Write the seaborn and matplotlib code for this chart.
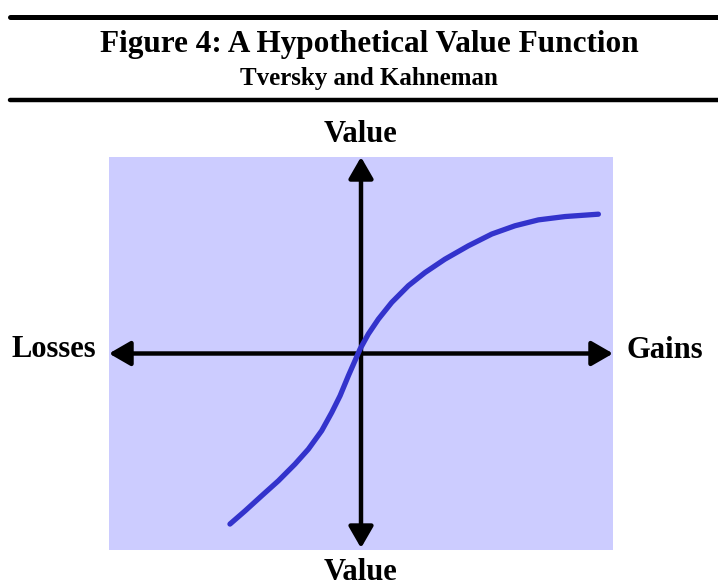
import pandas as pd
import matplotlib
matplotlib.use("Agg")
import matplotlib.pyplot as plt
from matplotlib.lines import Line2D
import seaborn as sns

# Value function curve (arbitrary units)
gain_loss = [-0.520, -0.460, -0.394, -0.328, -0.262, -0.209, -0.156, -0.116,
             -0.083, -0.050, -0.024, -0.004, 0.029, 0.069, 0.122, 0.188,
             0.254, 0.333, 0.426, 0.519, 0.611, 0.704, 0.810, 0.942]
value = [-0.868, -0.801, -0.724, -0.648, -0.563, -0.487, -0.393, -0.300,
         -0.215, -0.113, -0.037, 0.022, 0.099, 0.175, 0.260, 0.345,
         0.412, 0.480, 0.548, 0.608, 0.650, 0.680, 0.697, 0.709]

title = "Figure 4: A Hypothetical Value Function"
subtitle = "Tversky and Kahneman"

df = pd.DataFrame({"x": gain_loss, "v": value})

sns.set_style("white")
plt.rcParams["font.family"] = ["Liberation Serif", "DejaVu Serif"]
plt.rcParams["text.color"] = "black"

fig = plt.figure(figsize=(7.18, 5.88), dpi=100)
ax = fig.add_axes([109 / 718, 38 / 588, 504 / 718, 393 / 588])
ax.set_facecolor("#CCCCFF")
ax.set_xlim(-1, 1)
ax.set_ylim(-1, 1)
for s in ax.spines.values():
    s.set_visible(False)
ax.set_xticks([])
ax.set_yticks([])

# Axes arrows
arrow = dict(arrowstyle="<|-|>,head_length=1.3,head_width=0.75", mutation_scale=10,
             lw=3.2, color="black", shrinkA=0, shrinkB=0)
ax.annotate("", xy=(1, 0), xytext=(-1, 0), arrowprops=arrow)
ax.annotate("", xy=(0, 1), xytext=(0, -0.99), arrowprops=arrow)

# Curve (on top of the axis arrows)
sns.lineplot(data=df, x="x", y="v", ax=ax, color="#3333CC", lw=3.8,
             sort=False, solid_capstyle="round", solid_joinstyle="round",
             zorder=5)
ax.set_xlabel("")
ax.set_ylabel("")

# Header rules and titles
fig.add_artist(Line2D([10 / 718, 1], [1 - 16.5 / 588] * 2, color="black", lw=3.6))
fig.add_artist(Line2D([10 / 718, 1], [1 - 100 / 588] * 2, color="black", lw=3.2))
fig.text(369 / 718, 1 - 52 / 588, title, ha="center", va="baseline",
         fontsize=22.5, fontweight="bold")
fig.text(369 / 718, 1 - 85 / 588, subtitle, ha="center", va="baseline",
         fontsize=18, fontweight="bold")

# Axis labels
fig.text(360 / 718, 1 - 142 / 588, "Value", ha="center", va="baseline",
         fontsize=22, fontweight="bold")
fig.text(360 / 718, 1 - 580 / 588, "Value", ha="center", va="baseline",
         fontsize=22, fontweight="bold")
fig.text(12 / 718, 1 - 357 / 588, "Losses", ha="left", va="baseline",
         fontsize=22, fontweight="bold")
fig.text(626 / 718, 1 - 358 / 588, "Gains", ha="left", va="baseline",
         fontsize=22, fontweight="bold")

fig.savefig("out.png", dpi=100)
